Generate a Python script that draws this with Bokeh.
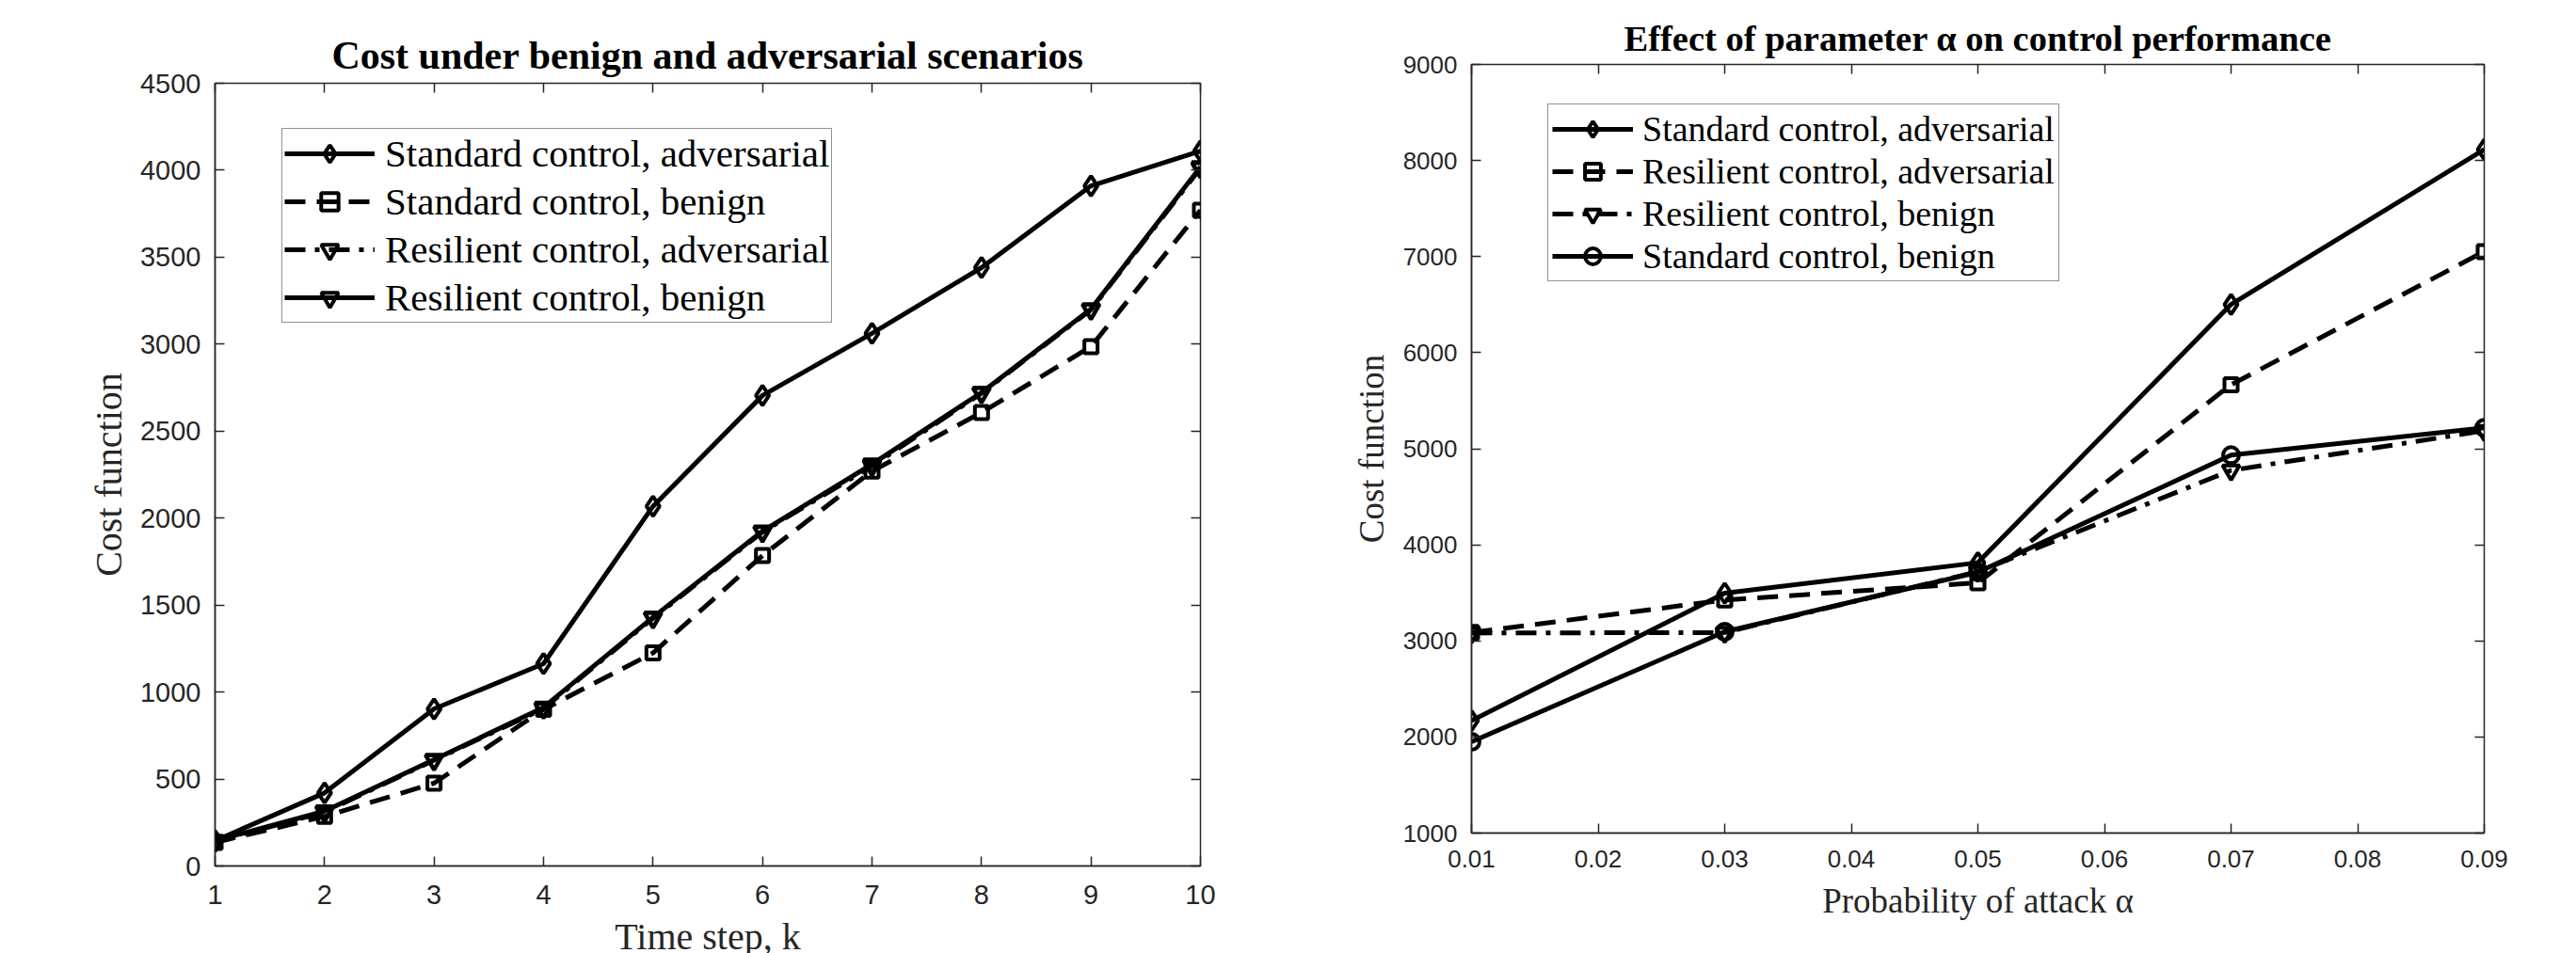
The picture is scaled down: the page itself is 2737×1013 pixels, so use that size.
from bokeh.plotting import figure
from bokeh.models import LinearAxis, FixedTicker, Legend, LegendItem, Range1d
from bokeh.layouts import row
from bokeh.embed import file_html
from bokeh.resources import INLINE

# ---------------- data: left chart ----------------
k_steps = [1, 2, 3, 4, 5, 6, 7, 8, 9, 10]
left_std_adv = [145, 420, 903, 1163, 2068, 2705, 3062, 3440, 3910, 4110]
left_std_ben = [135, 285, 476, 900, 1225, 1785, 2270, 2607, 2986, 3770]
left_res_adv = [140, 310, 608, 905, 1425, 1920, 2300, 2718, 3198, 4012]
left_res_ben = [145, 315, 611, 912, 1430, 1925, 2310, 2722, 3202, 4019]
left_yticks = [0, 500, 1000, 1500, 2000, 2500, 3000, 3500, 4000, 4500]

# ---------------- data: right chart ----------------
alpha = [0.01, 0.03, 0.05, 0.07, 0.09]
right_std_adv = [2170, 3497, 3814, 6502, 8115]
right_res_adv = [3087, 3425, 3605, 5667, 7052]
right_res_ben = [3082, 3087, 3720, 4775, 5187]
right_std_ben = [1950, 3095, 3715, 4933, 5218]
right_xticks = [0.01, 0.02, 0.03, 0.04, 0.05, 0.06, 0.07, 0.08, 0.09]
right_yticks = [1000, 2000, 3000, 4000, 5000, 6000, 7000, 8000, 9000]

AX = "#262626"
SERIF = "Liberation Serif"
SANS = "Liberation Sans"
DASH = "22 12"
DASHDOT = "22 10 5 10"


def mirror(p, loc, ticks):
    ax = LinearAxis(ticker=FixedTicker(ticks=ticks), major_tick_in=10, major_tick_out=0,
                    minor_tick_line_color=None, axis_line_color=None,
                    major_label_text_font_size="1px", major_label_text_color=None,
                    major_label_standoff=0,
                    major_label_overrides={t: "" for t in ticks},
                    major_tick_line_color=AX, major_tick_line_width=1.5)
    p.add_layout(ax, loc)


def style(p, xticks, yticks, tick_fs, label_fs, xlabel, ylabel, x_std, y_std, yl_std, xl_std):
    p.xaxis.ticker = FixedTicker(ticks=xticks)
    p.yaxis.ticker = FixedTicker(ticks=yticks)
    for ax in (p.xaxis[0], p.yaxis[0]):
        ax.axis_line_color = AX
        ax.axis_line_width = 1.5
        ax.major_tick_in = 10
        ax.major_tick_out = 0
        ax.major_tick_line_color = AX
        ax.major_tick_line_width = 1.5
        ax.minor_tick_line_color = None
        ax.major_label_text_font = SANS
        ax.major_label_text_font_size = tick_fs
        ax.major_label_text_color = AX
        ax.axis_label_text_font = SERIF
        ax.axis_label_text_font_size = label_fs
        ax.axis_label_text_font_style = "normal"
        ax.axis_label_text_color = AX
    p.xaxis.axis_label = xlabel
    p.yaxis.axis_label = ylabel
    p.xaxis.major_label_standoff = x_std
    p.yaxis.major_label_standoff = y_std
    p.yaxis.axis_label_standoff = yl_std
    p.xaxis.axis_label_standoff = xl_std
    p.xgrid.grid_line_color = None
    p.ygrid.grid_line_color = None
    p.outline_line_color = AX
    p.outline_line_width = 1.5
    mirror(p, "right", yticks)
    mirror(p, "above", xticks)


def series(p, x, y, dash, marker, msize):
    lr = p.line(x, y, line_color="black", line_width=5, line_dash=dash)
    sr = p.scatter(x, y, marker=marker, size=msize, line_color="black", line_width=4,
                   fill_color=None)
    return [lr, sr]


# ---------------- left figure ----------------
p1 = figure(frame_width=1047, frame_height=832, min_border_left=228, min_border_right=30,
            min_border_top=68, min_border_bottom=10, margin=(20, 0, 0, 0),
            x_range=Range1d(1, 10), y_range=Range1d(0, 4500),
            output_backend="svg", toolbar_location=None,
            title="Cost under benign and adversarial scenarios")
p1.title.text_font = SERIF
p1.title.text_font_style = "bold"
p1.title.text_font_size = "42px"
p1.title.align = "center"
p1.title.text_color = "black"
p1.title.standoff = 14
style(p1, k_steps, left_yticks, "29px", "40px", "Time step, k", "Cost function", 20, 15, 8, 9)

r1 = series(p1, k_steps, left_std_adv, "solid", "diamond", 21)
r2 = series(p1, k_steps, left_std_ben, DASH, "square", 14)
r3 = series(p1, k_steps, left_res_adv, DASHDOT, "inverted_triangle", 18)
r4 = series(p1, k_steps, left_res_ben, "solid", "inverted_triangle", 18)

leg1 = Legend(items=[
    LegendItem(label="Standard control, adversarial", renderers=r1),
    LegendItem(label="Standard control, benign", renderers=r2),
    LegendItem(label="Resilient control, adversarial", renderers=r3),
    LegendItem(label="Resilient control, benign", renderers=r4),
], location=(71, 577), padding=2, spacing=3, margin=0, glyph_width=96, glyph_height=46,
    label_height=46, label_standoff=11, border_line_color=AX, border_line_width=1.5,
    label_text_font=SERIF, label_text_font_size="41px", label_text_color="black",
    background_fill_alpha=1.0)
p1.add_layout(leg1, "center")

# ---------------- right figure ----------------
p2 = figure(frame_width=1076, frame_height=817, min_border_left=258, min_border_right=40,
            min_border_top=68, min_border_bottom=10,
            x_range=Range1d(0.01, 0.09), y_range=Range1d(1000, 9000),
            output_backend="svg", toolbar_location=None,
            title="Effect of parameter α on control performance")
p2.title.text_font = SERIF
p2.title.text_font_style = "bold"
p2.title.text_font_size = "38.5px"
p2.title.align = "center"
p2.title.text_color = "black"
p2.title.standoff = 13
style(p2, right_xticks, right_yticks, "26px", "37px", "Probability of attack α", "Cost function", 18, 15, 10, 12)
p2.xaxis.major_label_overrides = {t: f"{t:.2f}" for t in right_xticks}

q1 = series(p2, alpha, right_std_adv, "solid", "diamond", 21)
q2 = series(p2, alpha, right_res_adv, DASH, "square", 14)
q3 = series(p2, alpha, right_res_ben, DASHDOT, "inverted_triangle", 18)
q4 = series(p2, alpha, right_std_ben, "solid", "circle", 17)

leg2 = Legend(items=[
    LegendItem(label="Standard control, adversarial", renderers=q1),
    LegendItem(label="Resilient control, adversarial", renderers=q2),
    LegendItem(label="Resilient control, benign", renderers=q3),
    LegendItem(label="Standard control, benign", renderers=q4),
], location=(81, 586), padding=4, spacing=1, margin=0, glyph_width=86, glyph_height=42,
    label_height=42, label_standoff=10, border_line_color=AX, border_line_width=1.5,
    label_text_font=SERIF, label_text_font_size="38px", label_text_color="black",
    background_fill_alpha=1.0)
p2.add_layout(leg2, "center")

layout = row(p1, p2)
open("out.html", "w").write(file_html(layout, INLINE))
